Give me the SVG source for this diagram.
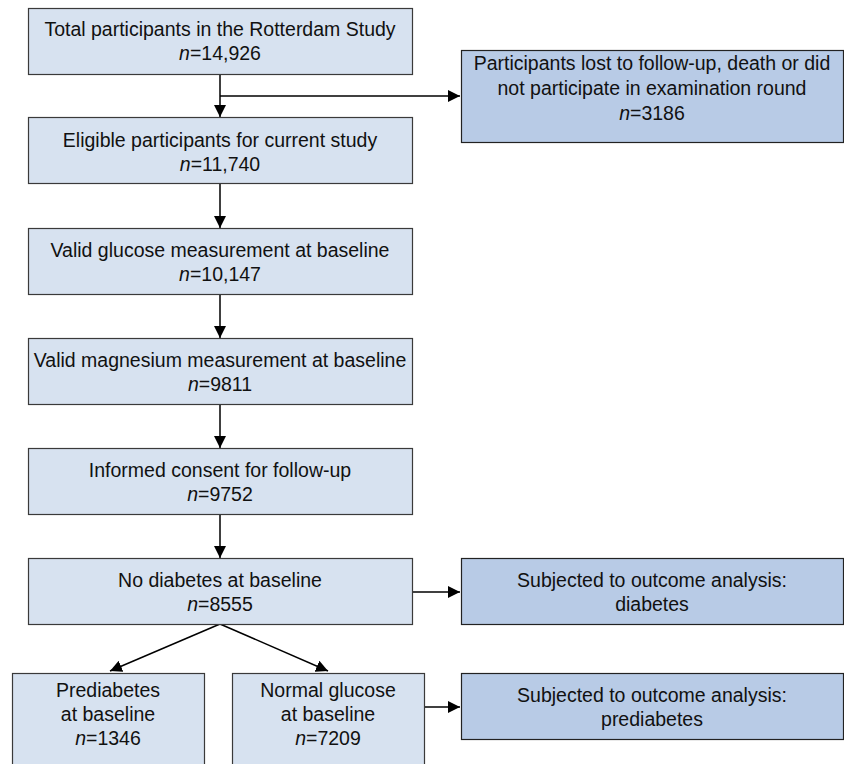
<svg xmlns="http://www.w3.org/2000/svg" width="844" height="764" viewBox="0 0 844 764">
<defs>
<style>
.box{fill:#d7e2f0;stroke:#3a3a3a;stroke-width:1.2}
.box2{fill:#b8cbe6;stroke:#222;stroke-width:1.2}
text{font-family:"Liberation Sans",Arial,sans-serif;font-size:19.5px;fill:#111;text-anchor:middle}
.n{font-style:italic}
.c{fill:none;stroke:#000;stroke-width:1.5}
</style>
<marker id="ah" viewBox="0 0 12 12" refX="12" refY="6" markerWidth="12" markerHeight="12" markerUnits="userSpaceOnUse" orient="auto">
<path d="M0,0 L12,6 L0,12 z" fill="#000"/>
</marker>
</defs>
<rect width="844" height="764" fill="#fff"/>
<g id="connectors">
<line class="c" x1="220" y1="74" x2="220" y2="117" marker-end="url(#ah)"/>
<line class="c" x1="220" y1="96" x2="460" y2="96" marker-end="url(#ah)"/>
<line class="c" x1="220" y1="184" x2="220" y2="228" marker-end="url(#ah)"/>
<line class="c" x1="220" y1="294" x2="220" y2="338" marker-end="url(#ah)"/>
<line class="c" x1="220" y1="404" x2="220" y2="448" marker-end="url(#ah)"/>
<line class="c" x1="220" y1="514" x2="220" y2="558" marker-end="url(#ah)"/>
<line class="c" x1="412" y1="592" x2="460" y2="592" marker-end="url(#ah)"/>
<line class="c" x1="220" y1="624" x2="110" y2="671" marker-end="url(#ah)"/>
<line class="c" x1="220" y1="624" x2="328" y2="671" marker-end="url(#ah)"/>
<line class="c" x1="424" y1="707" x2="460" y2="707" marker-end="url(#ah)"/>
</g>
<g id="total">
<rect class="box" x="28.5" y="8.5" width="384" height="66"/>
<text x="220" y="36">Total participants in the Rotterdam Study</text>
<text x="220" y="60"><tspan class="n">n</tspan>=14,926</text>
</g>
<g id="lost">
<rect class="box2" x="461.5" y="50.5" width="382" height="92"/>
<text x="652" y="70">Participants lost to follow-up, death or did</text>
<text x="652" y="95">not participate in examination round</text>
<text x="652" y="120"><tspan class="n">n</tspan>=3186</text>
</g>
<g id="eligible">
<rect class="box" x="28.5" y="117.5" width="384" height="66"/>
<text x="220" y="147">Eligible participants for current study</text>
<text x="220" y="171"><tspan class="n">n</tspan>=11,740</text>
</g>
<g id="glucose">
<rect class="box" x="28.5" y="228.5" width="384" height="66"/>
<text x="220" y="257">Valid glucose measurement at baseline</text>
<text x="220" y="281"><tspan class="n">n</tspan>=10,147</text>
</g>
<g id="magnesium">
<rect class="box" x="28.5" y="338.5" width="384" height="66"/>
<text x="220" y="367">Valid magnesium measurement at baseline</text>
<text x="220" y="391"><tspan class="n">n</tspan>=9811</text>
</g>
<g id="consent">
<rect class="box" x="28.5" y="448.5" width="384" height="66"/>
<text x="220" y="477">Informed consent for follow-up</text>
<text x="220" y="501"><tspan class="n">n</tspan>=9752</text>
</g>
<g id="nodiabetes">
<rect class="box" x="28.5" y="558.5" width="384" height="66"/>
<text x="220" y="587">No diabetes at baseline</text>
<text x="220" y="611"><tspan class="n">n</tspan>=8555</text>
</g>
<g id="outcome-diabetes">
<rect class="box2" x="461.5" y="558.5" width="382" height="66"/>
<text x="652" y="587">Subjected to outcome analysis:</text>
<text x="652" y="611">diabetes</text>
</g>
<g id="prediabetes">
<rect class="box" x="12.5" y="673.5" width="192" height="100"/>
<text x="108" y="697">Prediabetes</text>
<text x="108" y="721">at baseline</text>
<text x="108" y="745"><tspan class="n">n</tspan>=1346</text>
</g>
<g id="normal">
<rect class="box" x="232.5" y="673.5" width="192" height="100"/>
<text x="328" y="697">Normal glucose</text>
<text x="328" y="721">at baseline</text>
<text x="328" y="745"><tspan class="n">n</tspan>=7209</text>
</g>
<g id="outcome-prediabetes">
<rect class="box2" x="461.5" y="673.5" width="382" height="66"/>
<text x="652" y="702">Subjected to outcome analysis:</text>
<text x="652" y="726">prediabetes</text>
</g>
</svg>
